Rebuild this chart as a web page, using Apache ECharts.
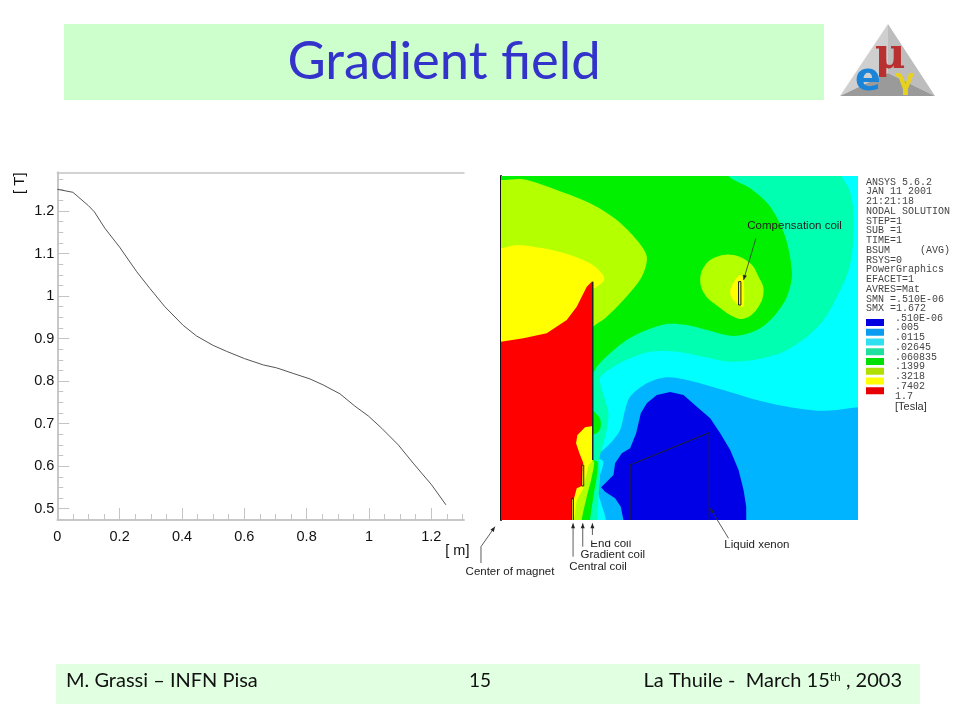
<!DOCTYPE html>
<html>
<head>
<meta charset="utf-8">
<style>html,body{margin:0;padding:0;background:#fff}#c{width:960px;height:720px}</style>
<script src="https://cdn.jsdelivr.net/npm/echarts@6/dist/echarts.min.js"></script>
</head>
<body>
<div id="c"></div>
<script>
// ---------- line chart data ----------
var radius = [0,0.05,0.1,0.119,0.153,0.2,0.255,0.297,0.345,0.404,0.447,0.5,0.543,0.6,0.661,0.704,0.757,0.811,0.853,0.907,0.955,0.998,1.041,1.094,1.142,1.201,1.247];
var field  = [1.251,1.244,1.2125,1.198,1.159,1.115,1.057,1.018,0.975,0.931,0.906,0.884,0.87,0.853,0.838,0.831,0.818,0.805,0.791,0.77,0.741,0.718,0.689,0.65,0.607,0.556,0.509];
var xMajor = [0,0.2,0.4,0.6,0.8,1,1.2];
var xMinor = [0.05,0.1,0.15,0.25,0.3,0.35,0.45,0.5,0.55,0.65,0.7,0.75,0.85,0.9,0.95,1.05,1.1,1.15,1.25,1.3];
var yMajor = [0.5,0.6,0.7,0.8,0.9,1,1.1,1.2];
var yMinor = [0.475,0.525,0.55,0.575,0.625,0.65,0.675,0.725,0.75,0.775,0.825,0.85,0.875,0.925,0.95,0.975,1.025,1.05,1.075,1.125,1.15,1.175,1.225,1.25,1.275];

// ---------- contour map regions (map units, origin top left of the picture) ----------
var regSky = [[33,18],[1103,18],[1103,1050],[33,1050]];
var regCyan = [[-100,-100],[1300,-100],[1300,700],[1103,712],[1040,720],[980,722],[900,712],[800,690],[700,660],[600,632],[530,622],[470,640],[420,680],[405,720],[390,780],[365,815],[322,860],[340,875],[325,930],[320,952],[330,990],[347,1050],[347,1150],[200,1150],[200,335]];
var regAqua = [[-100,-100],[1045,-100],[1055,18],[1078,60],[1090,130],[1088,220],[1075,300],[1040,380],[1000,450],[950,500],[880,545],[800,568],[720,575],[640,560],[560,545],[480,545],[420,565],[370,590],[330,625],[345,690],[355,730],[350,780],[330,855],[328,875],[330,920],[325,980],[322,1050],[322,1150],[200,1150],[200,335]];
var regGreen = [[-100,-100],[640,-100],[715,18],[780,55],[840,110],[885,200],[905,310],[890,380],[850,440],[800,480],[730,498],[650,480],[590,465],[530,462],[470,480],[410,510],[360,550],[320,590],[308,610],[200,700],[200,335]];
var regGreenBlob = [[300,718],[322,735],[331,750],[331,775],[320,790],[300,792]];
var regGreenLow = [[300,872],[322,875],[320,920],[310,980],[300,1050],[298,1150],[250,1150],[270,900]];
var regLime = [[-100,20],[33,30],[100,28],[200,60],[300,100],[380,150],[440,210],[470,260],[455,320],[400,390],[345,445],[308,472],[250,560],[-100,560]];
var regLimeLow = [[285,880],[312,875],[303,930],[290,980],[275,1050],[270,1150],[220,1150],[245,960]];
var regLimeBlob = [[630,330],[645,285],[680,260],[730,255],[780,280],[805,320],[820,360],[805,410],[765,445],[730,440],[685,410],[645,375]];
var regYellow = [[-100,250],[33,235],[80,225],[160,235],[240,255],[300,280],[335,310],[342,330],[320,350],[290,370],[250,560],[-100,560]];
var regYellowBlob = [[720,360],[735,330],[750,315],[760,330],[760,410],[745,405],[725,385]];
var regYellowLow = [[300,768],[308,768],[308,872],[296,885],[285,930],[280,955],[260,990],[252,1050],[245,1050],[245,960],[250,900],[250,780]];
var regRed = [[33,515],[100,505],[170,490],[230,450],[260,410],[275,380],[290,350],[305,335],[308,335],[308,768],[285,772],[262,795],[258,820],[268,850],[280,880],[277,885],[275,948],[260,955],[252,985],[245,990],[245,1050],[33,1050]];
var regBlue = [[400,1050],[392,1010],[375,985],[345,965],[333,952],[350,935],[370,915],[375,880],[395,850],[420,835],[438,790],[452,730],[470,700],[500,675],[540,666],[580,675],[620,710],[660,745],[690,790],[720,840],[745,900],[760,960],[768,1010],[768,1050]];
var regions = [
  {pts:regSky,c:'#00b4ff',s:0},{pts:regCyan,c:'#00ffff',s:0.3},{pts:regAqua,c:'#00ffb0',s:0.3},{pts:regGreen,c:'#00f000',s:0.3},
  {pts:regGreenBlob,c:'#00f000',s:0.3},{pts:regGreenLow,c:'#00f000',s:0.2},{pts:regLime,c:'#b4ff00',s:0.3},{pts:regLimeLow,c:'#b4ff00',s:0.2},
  {pts:regLimeBlob,c:'#b4ff00',s:0.4},{pts:regYellow,c:'#ffff00',s:0.3},{pts:regYellowBlob,c:'#ffff00',s:0.3},{pts:regYellowLow,c:'#ffff00',s:0},
  {pts:regRed,c:'#ff0000',s:0},{pts:regBlue,c:'#0000e6',s:0}
];
// ---------- outlines and annotation arrows, same map units ----------
var outlines = [
  {pts:[[308,335],[308,870]],w:1.5},
  {pts:[[245,1050],[245,985],[250,985],[250,1050]],w:1},
  {pts:[[275,948],[275,885],[281,885],[281,948],[275,948]],w:1},
  {pts:[[420,1050],[420,885],[657,788],[657,1050]],w:1},
  {pts:[[745,335],[752,335],[752,405],[745,405],[745,335]],w:1}
];
var arrows = [
  {pts:[[797,205],[760,330]]},{pts:[[249,1160],[249,1060]]},{pts:[[278,1130],[278,1060]]},
  {pts:[[307,1095],[307,1060]]},{pts:[[715,1105],[660,1015]]},{pts:[[-27,1179],[-27,1130],[15,1070]]}
];
var notes = [
  {t:'Compensation coil',p:[913,167]},{t:'End coil',p:[362,1120]},{t:'Gradient coil',p:[368,1155]},
  {t:'Central coil',p:[324,1191]},{t:'Liquid xenon',p:[800,1125]},{t:'Center of magnet',p:[60,1204]}
];
// ---------- solver listing ----------
var ansysLines = ['ANSYS 5.6.2','JAN 11 2001','21:21:18','NODAL SOLUTION','STEP=1','SUB =1','TIME=1','BSUM     (AVG)','RSYS=0','PowerGraphics','EFACET=1','AVRES=Mat','SMN =.510E-06','SMX =1.672'];
var legendValues = ['.510E-06','.005','.0115','.02645','.060835','.1399','.3218','.7402','1.7'];
var legendColors = ['#0000e0','#0a9cf0','#30e0f0','#20e0a0','#00e000','#b0e000','#ffff00','#e80000'];

var chart = echarts.init(document.getElementById('c'));
var sans = '"Liberation Sans", Arial, sans-serif';
var gfx = [
  {type:'rect',shape:{x:64,y:24,width:760,height:76},style:{fill:'#ccffcc'},z:-1},
  {type:'rect',shape:{x:56,y:664,width:864,height:40},style:{fill:'#e1ffe1'},z:-1},
  {type:'text',x:444,y:62,style:{text:'Gradient field',font:'52.5px Lato',fill:'#3333cc',align:'center',verticalAlign:'middle'}},
  {type:'text',x:66,y:681,style:{text:'M. Grassi \u2013 INFN Pisa',font:'20px Lato',fill:'#111',verticalAlign:'middle'}},
  {type:'text',x:480,y:681,style:{text:'15',font:'19px Lato',fill:'#111',align:'center',verticalAlign:'middle'}},
  {type:'text',x:902,y:681,style:{text:'La Thuile -  March 15{s|th} , 2003',font:'20px Lato',fill:'#111',align:'right',verticalAlign:'middle',rich:{s:{font:'12px Lato',fill:'#111',padding:[0,0,8,0]}}}},
  // logo
  {type:'polygon',shape:{points:[[888,24],[840,96],[888,73]]},style:{fill:'#cfcfcf'}},
  {type:'polygon',shape:{points:[[888,24],[935,96],[888,73]]},style:{fill:'#bdbdbd'}},
  {type:'polygon',shape:{points:[[840,96],[935,96],[888,73]]},style:{fill:'#9a9a9a'}},
  {type:'text',x:890,y:57,style:{text:'\u03bc',font:'bold 42px "DejaVu Serif"',fill:'#b83030',align:'center',verticalAlign:'middle'}},
  {type:'text',x:868,y:80,style:{text:'e',font:'bold 38px "DejaVu Sans"',fill:'#1a84d8',align:'center',verticalAlign:'middle'}},
  {type:'text',x:905,y:82,style:{text:'\u03b3',font:'bold 28px "DejaVu Sans"',fill:'#e6d21e',align:'center',verticalAlign:'middle'}},
  {type:'text',x:895,y:407,style:{text:'[Tesla]',font:'11px '+sans,fill:'#333',verticalAlign:'middle'}},
  {type:'rect',shape:{x:585,y:535.5,width:50,height:5},style:{fill:'#fff'},z:20}
];
ansysLines.forEach(function(t,i){
  gfx.push({type:'text',x:866,y:182+i*9.75,style:{text:t,font:'10px "Liberation Mono"',fill:'#444',verticalAlign:'middle'}});
});
legendColors.forEach(function(c,i){
  gfx.push({type:'rect',shape:{x:866,y:319+i*9.75,width:18,height:7},style:{fill:c}});
});
legendValues.forEach(function(t,i){
  gfx.push({type:'text',x:895,y:318+i*9.75,style:{text:t,font:'10px "Liberation Mono"',fill:'#444',verticalAlign:'middle'}});
});

function valueAxisBase(extra){
  var tickColor = '#c4c4c4';
  return Object.assign({type:'value',gridIndex:0,splitLine:{show:false},
    axisLine:{show:true,onZero:false,lineStyle:{color:tickColor,width:1.5}},
    axisTick:{show:false},axisLabel:{show:false}},extra);
}
function ticks(values,len){return {show:true,inside:true,length:len,customValues:values,lineStyle:{color:'#c4c4c4',width:1}};}
var labelStyle = {show:true,fontFamily:sans,fontSize:14.5,color:'#111'};

var option = {
  animation:false,
  backgroundColor:'#fff',
  graphic:{elements:gfx},
  grid:[
    {left:57.3,top:172.3,width:406.7,height:347.7},
    {left:501,top:176,width:357,height:344}
  ],
  xAxis:[
    valueAxisBase({min:0,max:1.305,position:'bottom',axisTick:ticks(xMajor,12),
      axisLabel:Object.assign({},labelStyle,{customValues:xMajor,margin:9}),
      name:'[ m]',nameLocation:'end',nameGap:0,
      nameTextStyle:{fontFamily:sans,fontSize:14.5,color:'#111',align:'right',verticalAlign:'top',padding:[23,5,0,0]}}),
    valueAxisBase({min:0,max:1.305,position:'bottom',axisTick:ticks(xMinor,6)}),
    valueAxisBase({min:0,max:1.305,position:'top'}),
    {type:'value',gridIndex:1,min:33,max:1103,show:false,splitLine:{show:false}}
  ],
  yAxis:[
    valueAxisBase({min:0.4733,max:1.291,position:'left',axisTick:ticks(yMajor,12),
      axisLabel:Object.assign({},labelStyle,{customValues:yMajor,margin:3}),
      name:'[ T]',nameLocation:'end',nameGap:0,nameRotate:90,
      nameTextStyle:{fontFamily:sans,fontSize:15,color:'#111',align:'right',verticalAlign:'bottom',padding:[0,0,30,0]}}),
    valueAxisBase({min:0.4733,max:1.291,position:'left',axisTick:ticks(yMinor,6)}),
    {type:'value',gridIndex:1,min:18,max:1050,inverse:true,position:'left',
      axisLine:{show:true,onZero:false,lineStyle:{color:'#111',width:2}},axisTick:{show:false},axisLabel:{show:false},splitLine:{show:false}}
  ],
  series:[
    {type:'line',xAxisIndex:0,yAxisIndex:0,showSymbol:false,symbol:'none',z:3,
      lineStyle:{color:'#555',width:1},
      data:radius.map(function(x,i){return [x,field[i]];})},
    {type:'custom',xAxisIndex:3,yAxisIndex:2,z:1,silent:true,clip:true,
      data:regions.map(function(r,i){return [i];}),encode:{x:0},
      renderItem:function(p,api){
        var r = regions[p.dataIndex];
        return {type:'polygon',shape:{points:r.pts.map(function(q){return api.coord(q);}),smooth:r.s},style:{fill:r.c}};
      }},
    {type:'custom',xAxisIndex:3,yAxisIndex:2,z:2,silent:true,
      data:outlines.map(function(r,i){return [i];}),encode:{x:0},
      renderItem:function(p,api){
        var r = outlines[p.dataIndex];
        return {type:'polyline',shape:{points:r.pts.map(function(q){return api.coord(q);})},style:{fill:'none',stroke:'#222',lineWidth:r.w}};
      }},
    {type:'custom',xAxisIndex:3,yAxisIndex:2,z:2,silent:true,
      data:arrows.map(function(r,i){return [i];}),encode:{x:0},
      renderItem:function(p,api){
        var pts = arrows[p.dataIndex].pts.map(function(q){return api.coord(q);});
        var a = pts[pts.length-2], b = pts[pts.length-1];
        var ang = Math.atan2(b[1]-a[1],b[0]-a[0]), L = 5, W = 2;
        var head = [b,
          [b[0]-L*Math.cos(ang)-W*Math.sin(ang),b[1]-L*Math.sin(ang)+W*Math.cos(ang)],
          [b[0]-L*Math.cos(ang)+W*Math.sin(ang),b[1]-L*Math.sin(ang)-W*Math.cos(ang)]];
        return {type:'group',children:[
          {type:'polyline',shape:{points:pts},style:{fill:'none',stroke:'#333',lineWidth:0.8}},
          {type:'polygon',shape:{points:head},style:{fill:'#222'}}
        ]};
      }},
    {type:'custom',xAxisIndex:3,yAxisIndex:2,z:3,silent:true,
      data:notes.map(function(r,i){return [i];}),encode:{x:0},
      renderItem:function(p,api){
        var n = notes[p.dataIndex], c = api.coord(n.p);
        return {type:'text',x:c[0],y:c[1],style:{text:n.t,font:'11.5px '+sans,fill:'#222',align:'center',verticalAlign:'middle'}};
      }}
  ]
};
chart.setOption(option);
</script>
</body>
</html>
